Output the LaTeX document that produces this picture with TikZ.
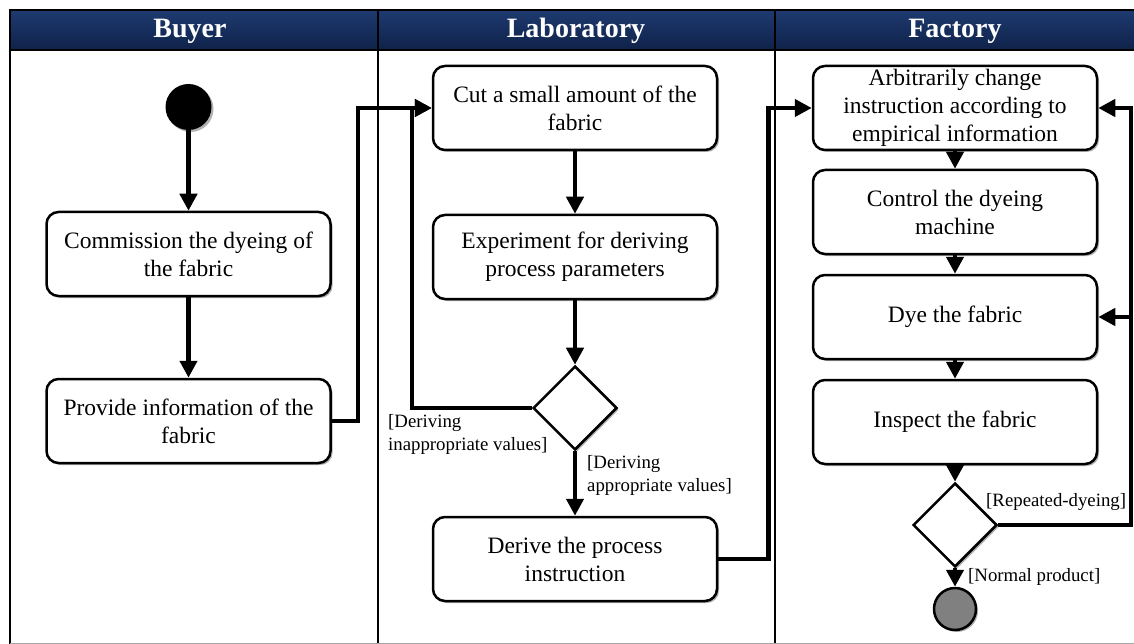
\documentclass[tikz,border=0pt]{standalone}
\usepackage{fontspec}
\setmainfont{Liberation Serif}
\usetikzlibrary{arrows.meta,shapes.geometric,shadows}
\definecolor{navytop}{HTML}{1E3A70}
\definecolor{navybot}{HTML}{0F2249}
\definecolor{endgray}{HTML}{808080}
\begin{document}
\begin{tikzpicture}[x=1pt,y=-1pt,
  shad/.style={drop shadow={shadow xshift=2pt,shadow yshift=-2pt,opacity=0.3,fill=black}},
  box/.style={draw,line width=2.5pt,rounded corners=12pt,minimum width=284pt,minimum height=84pt,
    inner sep=0pt,align=center,font=\fontsize{23.5}{28}\selectfont,fill=white,shad},
  dec/.style={draw,diamond,line width=2.5pt,minimum width=84pt,minimum height=84pt,inner sep=0pt,fill=white,shad},
  conn/.style={line width=4.5pt,-{Triangle[length=17pt,width=17pt]}},
  guard/.style={font=\fontsize{18.8}{23}\selectfont,align=left,inner sep=0pt},
  lane/.style={line width=2.2pt},
  head/.style={text=white,font=\fontsize{28}{32}\selectfont\bfseries}]
\useasboundingbox (0,0) rectangle (1134,644);
% header band
\shade[top color=navytop,bottom color=navybot] (10,10) rectangle (1134,50);
\draw[lane] (1134,10) -- (10,10) -- (10,644);
\draw[lane] (10,50) -- (1134,50);
\draw[lane] (378,10) -- (378,644);
\draw[lane] (775,10) -- (775,644);
\draw[black!35,line width=1pt] (10,643.5) -- (1134,643.5);
\node[head] (hb) at (190,31) {Buyer};
\node[head] (hl) at (576,31) {Laboratory};
\node[head] (hf) at (955,31) {Factory};
% buyer lane
\node[circle,fill=black,minimum size=46pt,inner sep=0pt,shad] (start) at (188.5,107) {};
\node[box] (comm) at (188.5,254) {Commission the dyeing of\\the fabric};
\node[box] (prov) at (188.5,421) {Provide information of the\\fabric};
% laboratory lane
\node[box] (cut) at (575,108) {Cut a small amount of the\\fabric};
\node[box] (exp) at (575,257) {Experiment for deriving\\process parameters};
\node[dec] (d1) at (575,408) {};
\node[box] (der) at (575,559) {Derive the process\\instruction};
% factory lane
\node[box] (arb) at (955,108) {Arbitrarily change\\instruction according to\\empirical information};
\node[box] (ctl) at (955,212) {Control the dyeing\\machine};
\node[box] (dye) at (955,317) {Dye the fabric};
\node[box] (ins) at (955,422) {Inspect the fabric};
\node[dec] (d2) at (955,525) {};
\node[circle,draw,line width=2.5pt,fill=endgray,minimum size=42pt,inner sep=0pt,shad] (end) at (955,609) {};
% connectors
\draw[conn] (start) -- (comm);
\draw[conn] (comm) -- (prov);
\draw[conn] (prov.east) -- ++(26,0) |- (cut.west);
\draw[conn] (d1.west) -- ++(-120,0) |- (cut.west);
\draw[conn] (cut) -- (exp);
\draw[conn] (exp) -- (d1);
\draw[conn] (d1) -- (der);
\draw[conn] (der.east) -- ++(50,0) |- (arb.west);
\draw[conn] (arb) -- (ctl);
\draw[conn] (ctl) -- (dye);
\draw[conn] (dye) -- (ins);
\draw[conn] (ins) -- (d2);
\draw[conn] (d2) -- (end);
\coordinate (r1) at (1131,525);
\draw[conn] (d2.east) -- (r1) |- (arb.east);
\draw[conn] (r1 |- dye.east) -- (dye.east);
% guards
\node[guard,anchor=north west] (g1) at (388,414) {[Deriving\\inappropriate values]};
\node[guard,anchor=north west] (g2) at (587,455) {[Deriving\\appropriate values]};
\node[guard,anchor=west] (g3) at (986,502) {[Repeated-dyeing]};
\node[guard,anchor=west] (g4) at (968,577) {[Normal product]};
\end{tikzpicture}
\end{document}
